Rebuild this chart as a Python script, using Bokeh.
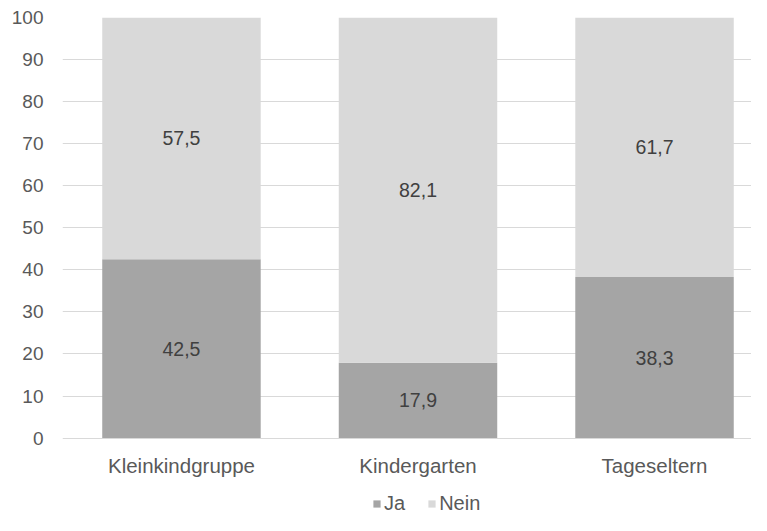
from bokeh.plotting import figure
from bokeh.models import ColumnDataSource, FixedTicker, Legend, LegendItem, Range1d
from bokeh.core.properties import value
from bokeh.embed import file_html
from bokeh.resources import INLINE

categories = ["Kleinkindgruppe", "Kindergarten", "Tageseltern"]
ja = [42.5, 17.9, 38.3]
nein = [57.5, 82.1, 61.7]
y_ticks = [0, 10, 20, 30, 40, 50, 60, 70, 80, 90, 100]

FONT = "Liberation Sans"
TXT = "#595959"
C_JA = "#a5a5a5"
C_NEIN = "#d9d9d9"

xs = list(range(len(categories)))
src = ColumnDataSource(dict(
    x=xs, ja=ja, nein=nein,
    ja_mid=[j / 2 for j in ja],
    nein_mid=[j + n / 2 for j, n in zip(ja, nein)],
    ja_lab=[f"{v:.1f}".replace(".", ",") for v in ja],
    nein_lab=[f"{v:.1f}".replace(".", ",") for v in nein],
    cat=categories,
    cat_y=[-6.6] * len(categories),
))

p = figure(width=751, height=515, output_backend="svg", toolbar_location=None,
           x_range=Range1d(-0.503, 2.410), y_range=Range1d(-18.4, 100),
           min_border_left=62, min_border_top=17, min_border_right=0, min_border_bottom=0)
p.outline_line_color = None
p.background_fill_color = "white"
p.border_fill_color = "white"
p.xaxis.visible = False

r = p.vbar_stack(["ja", "nein"], x="x", width=0.67, source=src,
                 color=[C_JA, C_NEIN], line_color=None)

p.text(x="x", y="ja_mid", text="ja_lab", source=src, text_align="center",
       text_baseline="middle", text_font=value(FONT), text_font_size="19.5px",
       text_color="#404040")
p.text(x="x", y="nein_mid", text="nein_lab", source=src, text_align="center",
       text_baseline="middle", text_font=value(FONT), text_font_size="19.5px",
       text_color="#404040")
p.text(x="x", y="cat_y", text="cat", source=src, text_align="center",
       text_baseline="middle", text_font=value(FONT), text_font_size="20.5px",
       text_color=TXT)

p.xgrid.grid_line_color = None
p.ygrid.grid_line_color = "#d9d9d9"
p.ygrid.ticker = FixedTicker(ticks=y_ticks)

p.yaxis.ticker = FixedTicker(ticks=y_ticks)
p.yaxis.axis_line_color = None
p.yaxis.major_tick_line_color = None
p.yaxis.minor_tick_line_color = None
p.yaxis.major_tick_out = 0
p.yaxis.major_tick_in = 0
p.yaxis.major_label_standoff = 19
p.yaxis.major_label_text_font = FONT
p.yaxis.major_label_text_font_size = "19px"
p.yaxis.major_label_text_color = TXT

legend = Legend(items=[LegendItem(label="Ja", renderers=[r[0]]),
                       LegendItem(label="Nein", renderers=[r[1]])],
                orientation="horizontal", location=(310, 0),
                glyph_width=9, glyph_height=9, label_standoff=3, spacing=22,
                label_text_font=FONT, label_text_font_size="20px",
                label_text_color=TXT, border_line_color=None,
                background_fill_alpha=0, padding=0, margin=0,
                label_height=20)
p.add_layout(legend, "center")

open("out.html", "w").write(file_html(p, INLINE))
